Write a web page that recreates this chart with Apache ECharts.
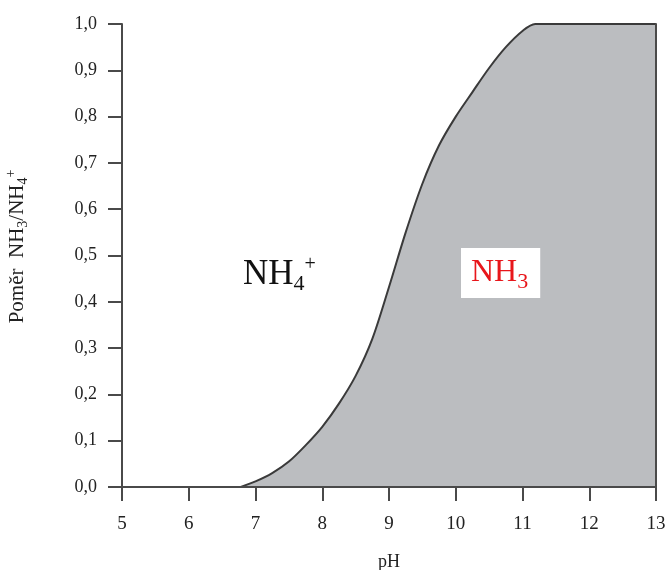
<!DOCTYPE html>
<html>
<head>
<meta charset="utf-8">
<script src="https://cdn.jsdelivr.net/npm/echarts@6/dist/echarts.min.js"></script>
<style>
  html, body { margin: 0; padding: 0; background: #fff; }
  #chart { width: 670px; height: 570px; }
</style>
</head>
<body>
<div id="chart"></div>
<script>
// pH values
const phValues = [6.78, 7.0, 7.25, 7.5, 7.75, 8.0, 8.25, 8.5, 8.75, 9.0, 9.25, 9.5, 9.75, 10.0, 10.25, 10.5, 10.75, 11.0, 11.19, 13];
// ratio NH3/NH4+
const ratioValues = [0, 0.012, 0.030, 0.055, 0.090, 0.130, 0.180, 0.240, 0.320, 0.432, 0.550, 0.655, 0.738, 0.800, 0.853, 0.905, 0.950, 0.985, 1.0, 1.0];

const serif = '"Liberation Serif", "DejaVu Serif", serif'
const textColor = '#222'
const axisColor = '#4a4a4a'

const chart = echarts.init(document.getElementById('chart'))

const curve = phValues.map((x, i) => [x, ratioValues[i]])

chart.setOption({
  animation: false,
  grid: { left: 122, right: 14, top: 24, bottom: 83, outerBoundsMode: 'none' },
  xAxis: [
    {
      type: 'value',
      min: 5,
      max: 13,
      interval: 1,
      z: 5,
      name: 'pH',
      nameLocation: 'middle',
      nameGap: 66,
      nameTextStyle: { fontFamily: serif, fontSize: 18, color: textColor },
      axisLine: { lineStyle: { color: axisColor, width: 2 } },
      axisTick: { length: 14, lineStyle: { color: axisColor, width: 2 } },
      axisLabel: { margin: 28, fontFamily: serif, fontSize: 19, color: textColor },
      splitLine: { show: false },
    },
    {
      type: 'value',
      position: 'top',
      min: 5,
      max: 13,
      z: 5,
      axisLine: { show: true, lineStyle: { color: axisColor, width: 2 } },
      axisTick: { show: false },
      axisLabel: { show: false },
      splitLine: { show: false },
    },
  ],
  yAxis: [
    {
      type: 'value',
      min: 0,
      max: 1,
      interval: 0.1,
      z: 5,
      name: '{a|Poměr  NH}{sub|3}{a|/NH}{sub|4}{sup|+}',
      nameLocation: 'middle',
      nameGap: 92,
      nameTextStyle: {
        padding: [0, 0, 0, 18],
        rich: {
          a: { fontFamily: serif, fontSize: 21, color: textColor, lineHeight: 26 },
          sub: { fontFamily: serif, fontSize: 14, color: textColor, lineHeight: 12, verticalAlign: 'bottom' },
          sup: { fontFamily: serif, fontSize: 14, color: textColor, lineHeight: 12, verticalAlign: 'top' },
        },
      },
      axisLine: { show: true, lineStyle: { color: axisColor, width: 2 } },
      axisTick: { show: true, length: 14, lineStyle: { color: axisColor, width: 2 } },
      axisLabel: {
        margin: 25,
        fontFamily: serif,
        fontSize: 18,
        color: textColor,
        formatter: (v) => v.toFixed(1).replace('.', ','),
      },
      splitLine: { show: false },
    },
    {
      type: 'value',
      position: 'right',
      min: 0,
      max: 1,
      z: 5,
      axisLine: { show: true, lineStyle: { color: axisColor, width: 2 } },
      axisTick: { show: false },
      axisLabel: { show: false },
      splitLine: { show: false },
    },
  ],
  series: [
    {
      type: 'line',
      data: curve,
      smooth: 0.3,
      showSymbol: false,
      lineStyle: { color: '#3a3a3a', width: 2 },
      areaStyle: { color: '#bbbdc0', opacity: 1 },
    },
  ],
  graphic: [
    {
      type: 'text',
      x: 243,
      y: 275,
      z: 10,
      style: {
        text: '{a|NH}{sub|4}{sup|+}',
        verticalAlign: 'middle',
        rich: {
          a: { fontFamily: serif, fontSize: 35, fill: '#111', lineHeight: 40 },
          sub: { fontFamily: serif, fontSize: 22, fill: '#111', lineHeight: 16, verticalAlign: 'bottom' },
          sup: { fontFamily: serif, fontSize: 20, fill: '#111', lineHeight: 18, verticalAlign: 'top' },
        },
      },
    },
    {
      type: 'text',
      x: 461,
      y: 273,
      z: 10,
      style: {
        text: '{a|NH}{sub|3}',
        verticalAlign: 'middle',
        backgroundColor: '#fff',
        padding: [5, 12, 5, 10],
        rich: {
          a: { fontFamily: serif, fontSize: 32, fill: '#e8161b', lineHeight: 40 },
          sub: { fontFamily: serif, fontSize: 22, fill: '#e8161b', lineHeight: 16, verticalAlign: 'bottom' },
        },
      },
    },
  ],
})
</script>
</body>
</html>
